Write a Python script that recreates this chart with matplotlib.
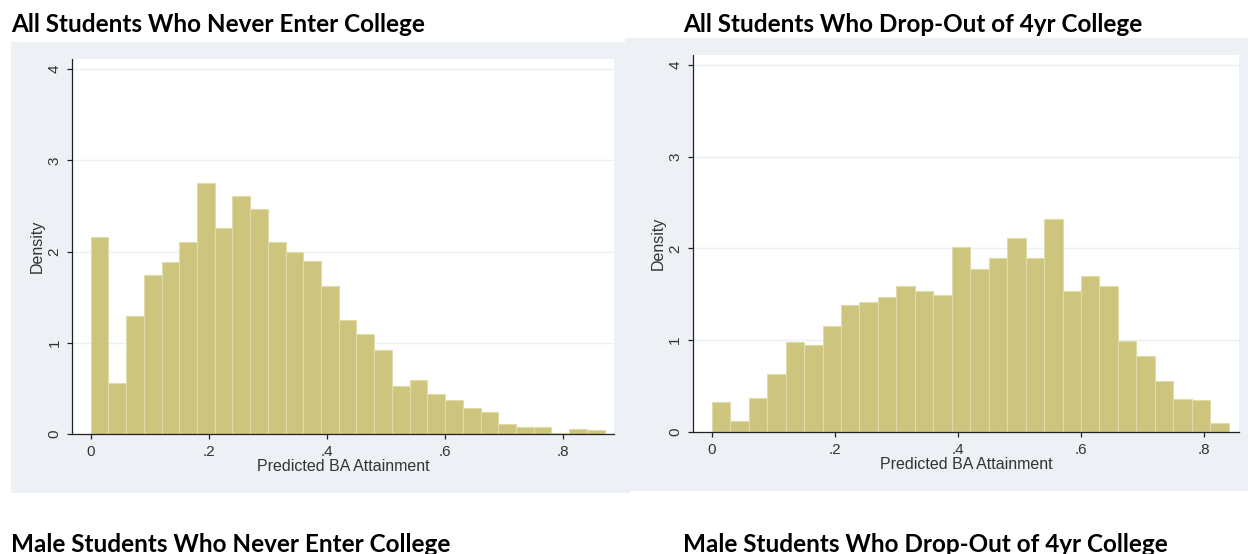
import numpy as np
import matplotlib
matplotlib.use("Agg")
import matplotlib.pyplot as plt
from matplotlib.patches import Rectangle

# ------ data

bin_width = 0.03

never_density = [2.16, 0.56, 1.29, 1.74, 1.88, 2.10, 2.75, 2.26, 2.61, 2.47,
                 2.10, 2.00, 1.90, 1.62, 1.25, 1.10, 0.92, 0.53, 0.59, 0.44,
                 0.37, 0.28, 0.24, 0.11, 0.08, 0.08, 0.01, 0.05, 0.04]

dropout_density = [0.32, 0.12, 0.37, 0.63, 0.98, 0.95, 1.15, 1.38, 1.41, 1.47,
                   1.59, 1.54, 1.49, 2.02, 1.78, 1.89, 2.11, 1.89, 2.32, 1.54,
                   1.70, 1.59, 0.99, 0.83, 0.55, 0.36, 0.35, 0.10]

x_ticks = [0, 0.2, 0.4, 0.6, 0.8]
x_tick_labels = ["0", ".2", ".4", ".6", ".8"]
y_ticks = [0, 1, 2, 3, 4]
y_tick_labels = ["0", "1", "2", "3", "4"]

titles_top = ["All Students Who Never Enter College",
              "All Students Who Drop-Out of 4yr College"]
titles_bottom = ["Male Students Who Never Enter College",
                 "Male Students Who Drop-Out of 4yr College"]

x_label = "Predicted BA Attainment"
y_label = "Density"

# ------ style

W, H = 1248, 554
bg = "#EDF1F5"
bar_fill = "#CDC47E"
bar_edge = "#E0DCAA"
grid_col = "#EAF0F3"

plt.rcParams["font.family"] = ["Liberation Sans", "DejaVu Sans"]

fig = plt.figure(figsize=(W / 100, H / 100), dpi=100)
fig.patch.set_facecolor("white")


def px_box(left, top, right, bottom):
    return [left / W, 1 - bottom / H, (right - left) / W, (bottom - top) / H]


# panel backgrounds (Stata graph region)
for (l, t, r, b) in [(11, 42, 630, 493), (625, 38, 1248, 491)]:
    fig.patches.append(Rectangle((l / W, 1 - b / H), (r - l) / W, (b - t) / H,
                                 transform=fig.transFigure, facecolor=bg,
                                 edgecolor="none", zorder=-5))

panels = [
    (never_density, px_box(72, 59, 614, 434), (-0.0317, 0.886)),
    (dropout_density, px_box(692.7, 55, 1239, 431.7), (-0.0309, 0.8567)),
]

for dens, box, xlim in panels:
    ax = fig.add_axes(box)
    ax.set_zorder(2)
    ax.set_facecolor("white")
    lefts = np.arange(len(dens)) * bin_width
    ax.bar(lefts, dens, width=bin_width, align="edge", color=bar_fill,
           edgecolor=bar_edge, linewidth=0.8, zorder=2)
    for yv in y_ticks[1:]:
        ax.axhline(yv, color=grid_col, lw=1.0, zorder=1)
    ax.set_xlim(*xlim)
    ax.set_ylim(0, 4.11)
    ax.set_xticks(x_ticks)
    ax.set_xticklabels(x_tick_labels)
    ax.set_yticks(y_ticks)
    ax.set_yticklabels(y_tick_labels, rotation=90, va="center")
    for s in ["top", "right"]:
        ax.spines[s].set_visible(False)
    for s in ["left", "bottom"]:
        ax.spines[s].set_color("#222222")
        ax.spines[s].set_linewidth(0.9)
    ax.tick_params(axis="both", direction="out", length=3.5, width=0.9,
                   color="#222222", labelsize=11, labelcolor="#333333")
    ax.tick_params(axis="x", pad=4.5)
    ax.tick_params(axis="y", pad=4)
    ax.set_xlabel(x_label, fontsize=11.5, color="#333333", labelpad=0)
    ax.set_ylabel(y_label, fontsize=11.5, color="#333333", labelpad=2)

# titles
title_font = ["Lato", "DejaVu Sans"]
for x_px, txt in [(11, titles_top[0]), (683, titles_top[1])]:
    fig.text(x_px / W, 1 - 32 / H, txt, fontsize=17.5, fontweight="bold",
             family=title_font, va="baseline", ha="left")
for x_px, txt in [(11, titles_bottom[0]), (683, titles_bottom[1])]:
    fig.text(x_px / W, 1 - 552 / H, txt, fontsize=17.5, fontweight="bold",
             family=title_font, va="baseline", ha="left")

fig.savefig("out.png", dpi=100)
